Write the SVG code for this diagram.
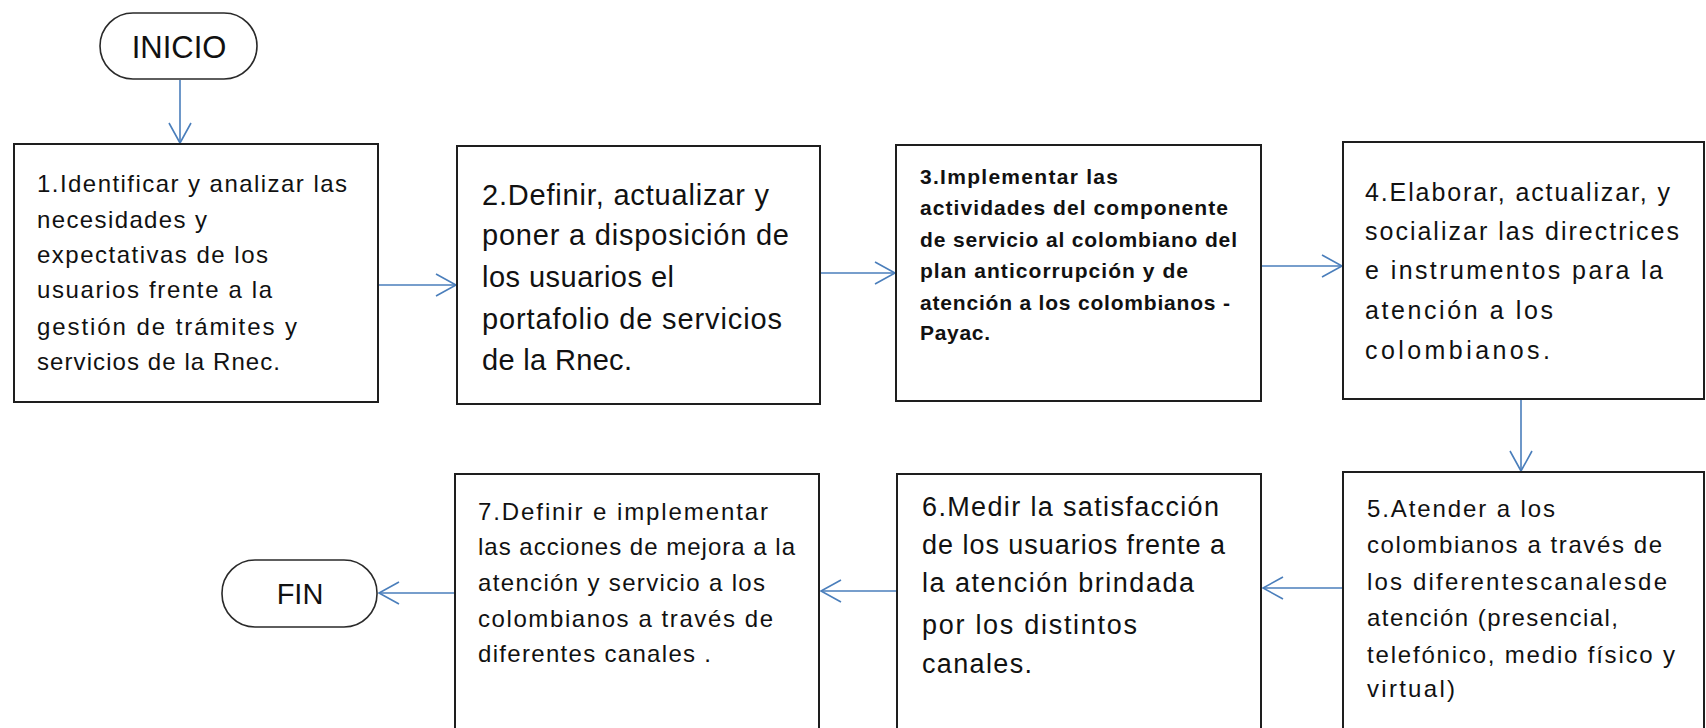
<svg xmlns="http://www.w3.org/2000/svg" width="1706" height="728" viewBox="0 0 1706 728">
<style>
.box{fill:#fff;stroke:#1e1e1e;stroke-width:2}
.pill{fill:#fff;stroke:#2a2a2a;stroke-width:1.6}
.t{font-family:"Liberation Sans",Arial,sans-serif;fill:#111}
.b{font-weight:bold}
.c{fill:none;stroke:#4a7ebb;stroke-width:1.6}
</style>
<defs>
<marker id="ah" markerUnits="userSpaceOnUse" markerWidth="26" markerHeight="28" refX="22" refY="12" orient="auto">
<path d="M2,1 L22,12 L2,23" fill="none" stroke="#4a7ebb" stroke-width="1.6"/>
</marker>
</defs>
<rect width="1706" height="728" fill="#fff"/>
<g id="connectors">
<path class="c" d="M180,80 V143" marker-end="url(#ah)"/>
<path class="c" d="M379,285 H456" marker-end="url(#ah)"/>
<path class="c" d="M821,273 H895" marker-end="url(#ah)"/>
<path class="c" d="M1262,266 H1342" marker-end="url(#ah)"/>
<path class="c" d="M1521,400 V471" marker-end="url(#ah)"/>
<path class="c" d="M1342,588 H1263" marker-end="url(#ah)"/>
<path class="c" d="M896,591 H821" marker-end="url(#ah)"/>
<path class="c" d="M454,593 H379" marker-end="url(#ah)"/>
</g>
<g id="inicio">
<rect class="pill" x="100" y="13" width="157" height="66" rx="33"/>
<text class="t" x="179" y="58" font-size="31" text-anchor="middle">INICIO</text>
</g>
<g id="fin">
<rect class="pill" x="222" y="560" width="155" height="67" rx="33"/>
<text class="t" x="300" y="604" font-size="29" text-anchor="middle">FIN</text>
</g>
<g id="n1">
<rect class="box" x="14" y="144" width="364" height="258"/>
<g class="t" font-size="24">
<text x="37" y="192" textLength="310">1.Identificar y analizar las</text>
<text x="37" y="228" textLength="170">necesidades y</text>
<text x="37" y="263" textLength="231">expectativas de los</text>
<text x="37" y="298" textLength="235">usuarios frente a la</text>
<text x="37" y="335" textLength="260">gestión de trámites y</text>
<text x="37" y="370" textLength="243">servicios de la Rnec.</text>
</g>
</g>
<g id="n2">
<rect class="box" x="457" y="146" width="363" height="258"/>
<g class="t" font-size="29">
<text x="482" y="205" textLength="287">2.Definir, actualizar y</text>
<text x="482" y="245" textLength="307">poner a disposición de</text>
<text x="482" y="287" textLength="192">los usuarios el</text>
<text x="482" y="329" textLength="300">portafolio de servicios</text>
<text x="482" y="370" textLength="150">de la Rnec.</text>
</g>
</g>
<g id="n3">
<rect class="box" x="896" y="145" width="365" height="256"/>
<g class="t b" font-size="21">
<text x="920" y="184" textLength="198">3.Implementar las</text>
<text x="920" y="215" textLength="308">actividades del componente</text>
<text x="920" y="247" textLength="317">de servicio al colombiano del</text>
<text x="920" y="278" textLength="268">plan anticorrupción y de</text>
<text x="920" y="310" textLength="310">atención a los colombianos -</text>
<text x="920" y="340" textLength="70">Payac.</text>
</g>
</g>
<g id="n4">
<rect class="box" x="1343" y="142" width="361" height="257"/>
<g class="t" font-size="25">
<text x="1365" y="201" textLength="305">4.Elaborar, actualizar, y</text>
<text x="1365" y="240" textLength="314">socializar las directrices</text>
<text x="1365" y="279" textLength="298">e instrumentos para la</text>
<text x="1365" y="319" textLength="188">atención a los</text>
<text x="1365" y="359" textLength="185">colombianos.</text>
</g>
</g>
<g id="n5">
<rect class="box" x="1343" y="472" width="361" height="270"/>
<g class="t" font-size="24">
<text x="1367" y="517" textLength="188">5.Atender a los</text>
<text x="1367" y="553" textLength="295">colombianos a través de</text>
<text x="1367" y="590" textLength="300">los diferentescanalesde</text>
<text x="1367" y="626" textLength="251">atención (presencial,</text>
<text x="1367" y="663" textLength="308">telefónico, medio físico y</text>
<text x="1367" y="697" textLength="88">virtual)</text>
</g>
</g>
<g id="n6">
<rect class="box" x="897" y="474" width="364" height="268"/>
<g class="t" font-size="27">
<text x="922" y="516" textLength="297">6.Medir la satisfacción</text>
<text x="922" y="554" textLength="303">de los usuarios frente a</text>
<text x="922" y="592" textLength="272">la atención brindada</text>
<text x="922" y="634" textLength="215">por los distintos</text>
<text x="922" y="673" textLength="110">canales.</text>
</g>
</g>
<g id="n7">
<rect class="box" x="455" y="474" width="364" height="268"/>
<g class="t" font-size="24">
<text x="478" y="520" textLength="290">7.Definir e implementar</text>
<text x="478" y="555" textLength="317">las acciones de mejora a la</text>
<text x="478" y="591" textLength="287">atención y servicio a los</text>
<text x="478" y="627" textLength="295">colombianos a través de</text>
<text x="478" y="662" textLength="233">diferentes canales .</text>
</g>
</g>
</svg>
